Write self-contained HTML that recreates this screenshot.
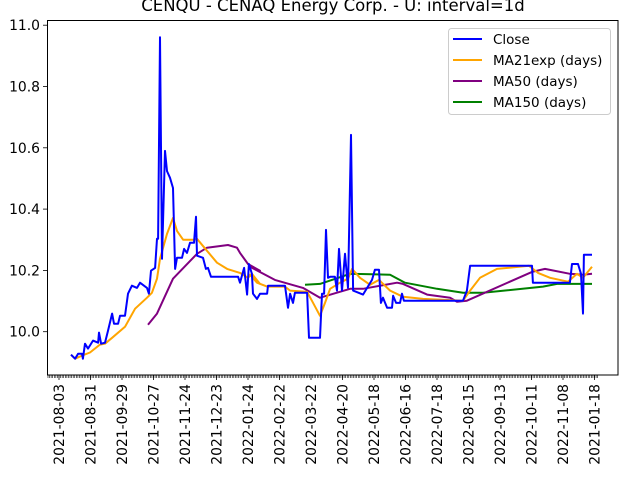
<!DOCTYPE html>
<html><head><meta charset="utf-8"><style>
html,body{margin:0;padding:0;background:#fff;}
svg{display:block;font-family:"DejaVu Sans","Liberation Sans",sans-serif;}
</style></head><body>
<svg id="chart" width="640" height="480" viewBox="0 0 640 480">
<text x="333" y="11" font-size="16.5" text-anchor="middle">CENQU - CENAQ Energy Corp. - U: interval=1d</text>
<g id="plot"></g>
<rect x="47.5" y="20.5" width="570.5" height="354.5" fill="none" stroke="#000" stroke-width="1"/>
<g>
<rect x="448.5" y="28.5" width="162" height="86" rx="3" fill="#fff" fill-opacity="0.8" stroke="#ccc"/>
<line x1="453" y1="39" x2="482" y2="39" stroke="blue" stroke-width="2"/>
<text x="493" y="44" font-size="13.5">Close</text>
<line x1="453" y1="60" x2="482" y2="60" stroke="orange" stroke-width="2"/>
<text x="493" y="65" font-size="13.5">MA21exp (days)</text>
<line x1="453" y1="81" x2="482" y2="81" stroke="purple" stroke-width="2"/>
<text x="493" y="86" font-size="13.5">MA50 (days)</text>
<line x1="453" y1="102" x2="482" y2="102" stroke="green" stroke-width="2"/>
<text x="493" y="107" font-size="13.5">MA150 (days)</text>
</g>
</svg>
<script>
const xTickLabels=["2021-08-03","2021-08-31","2021-09-29","2021-10-27","2021-11-24","2021-12-23","2022-01-24","2022-02-22","2022-03-22","2022-04-20","2022-05-18","2022-06-16","2022-07-18","2022-08-15","2022-09-13","2022-10-11","2022-11-08","2021-01-18"];
const yTicks=[10.0,10.2,10.4,10.6,10.8,11.0];
const closeIdx=[7.6,10.2,12.1,14.6,15.2,16.5,18.4,21.6,24.8,25.4,26.7,29.2,31.1,33.7,34.9,37.5,38.7,41.9,43.8,46.3,49.5,51.4,55.9,57.1,58.4,61,62.2,62.9,64.1,65.4,67.3,68.6,70.5,72.4,73.7,74.9,78.1,79.4,81.3,83.2,85.7,87,87.6,91.4,93.3,94.6,96.5,113.7,114.9,117.5,119.4,120.6,122.5,123.2,125.7,127.6,130.5,132.1,132.7,143.5,145.4,146.7,148.6,149.8,157.5,158.7,165.7,167,168.3,169.5,170.8,172.1,175.2,176.5,177.8,179.7,181.6,183.5,185.4,186.7,193,198.7,200.6,203.2,204.4,205.7,208.3,211.4,212.1,214,216.5,217.8,219,256.5,259,261,300.3,300.9,324.4,325.7,329.5,331.4,332.7,333.3,338.4];
const closeVal=[9.925,9.912,9.928,9.928,9.912,9.961,9.945,9.971,9.964,9.997,9.961,9.964,10.003,10.059,10.026,10.026,10.052,10.052,10.124,10.150,10.143,10.160,10.143,10.124,10.199,10.208,10.303,10.303,10.961,10.238,10.590,10.524,10.502,10.469,10.205,10.241,10.241,10.270,10.257,10.290,10.290,10.375,10.248,10.241,10.205,10.208,10.179,10.179,10.160,10.208,10.121,10.221,10.189,10.124,10.107,10.124,10.124,10.124,10.150,10.150,10.078,10.124,10.094,10.127,10.127,9.980,9.980,10.124,10.124,10.332,10.176,10.179,10.179,10.134,10.270,10.134,10.254,10.143,10.642,10.134,10.121,10.169,10.202,10.202,10.094,10.111,10.078,10.078,10.117,10.094,10.094,10.124,10.101,10.101,10.134,10.215,10.215,10.160,10.160,10.221,10.221,10.189,10.059,10.251,10.251];
const ma21Idx=[7.6,10.2,14.6,19.7,26,29.2,33.7,41.9,48.3,55.9,59,62.2,64.1,68.6,72.4,74.9,78.8,85.7,87.6,94,100.3,106.7,114.9,120,122.5,127.6,121.3,125.7,132.1,143.5,146.7,157.5,160.6,165.7,168.9,172.1,178.4,183.5,186.1,191.1,197.5,203.2,210.2,218.4,231.1,256.5,261,267.3,278.1,298.4,304.1,311.8,323.2,328.9,332.7,338.4];
const ma21Val=[9.925,9.912,9.922,9.932,9.958,9.961,9.980,10.016,10.075,10.111,10.127,10.173,10.238,10.319,10.371,10.329,10.300,10.300,10.303,10.264,10.225,10.205,10.192,10.176,10.189,10.156,10.186,10.160,10.147,10.147,10.134,10.130,10.101,10.052,10.094,10.140,10.160,10.173,10.205,10.176,10.153,10.169,10.134,10.114,10.107,10.101,10.134,10.176,10.205,10.215,10.192,10.176,10.163,10.189,10.176,10.212];
const ma50Idx=[56.5,62.2,72.4,87.6,94,107.3,113,114.9,120,127.6,121.3,137.1,154.9,165.7,184.8,193,214.6,218.4,233.7,248.3,252.7,259,300.3,308.6,324.4,332.7,338.4];
const ma50Val=[10.023,10.059,10.173,10.254,10.274,10.283,10.274,10.257,10.221,10.199,10.212,10.169,10.143,10.111,10.140,10.140,10.160,10.156,10.121,10.111,10.098,10.101,10.195,10.205,10.189,10.186,10.189];
const ma150Idx=[156.2,165.7,184.8,210.2,219.7,240,256.5,269.2,307.3,316.2,338.4];
const ma150Val=[10.153,10.156,10.189,10.186,10.160,10.140,10.127,10.127,10.147,10.156,10.156];

const X0=59, PX=1.575, Y0=331.7, PY=306.5;
function xs(i){return X0+i*PX;}
function ys(v){return Y0-(v-10)*PY;}
const NS="http://www.w3.org/2000/svg";
const plot=document.getElementById('plot');
function mk(t,a){const e=document.createElementNS(NS,t);for(const k in a)e.setAttribute(k,a[k]);plot.appendChild(e);return e;}

for(let i=-7;i<=342;i++){
  const t=mk('line',{x1:xs(i),x2:xs(i),y1:375,y2:378,stroke:'#000','stroke-width':0.6});
  
  
}
xTickLabels.forEach((lab,k)=>{
  const x=xs(k*20);
  const t=mk('line',{x1:x,x2:x,y1:375,y2:380,stroke:'#000','stroke-width':0.8});
  
  
  const tx=mk('text',{x:0,y:0,'font-size':13.9,'text-anchor':'end',transform:`translate(${x+5},384) rotate(-90)`});
  tx.textContent=lab;
  
  
});
yTicks.forEach(v=>{
  const y=ys(v);
  const t=mk('line',{x1:43,x2:47.5,y1:y,y2:y,stroke:'#000','stroke-width':0.8});
  
  
  const tx=mk('text',{x:40,y:y+5,'font-size':13.9,'text-anchor':'end'});
  tx.textContent=v.toFixed(1);
  
  
});
function series(idx,val,color,name){
  const p=idx.map((i,k)=>xs(i).toFixed(1)+','+ys(val[k]).toFixed(1)).join(' ');
  const l=mk('polyline',{points:p,fill:'none',stroke:color,'stroke-width':2,'stroke-linejoin':'round'});
  
  
}
series(ma150Idx,ma150Val,'green','ma150-line');
series(ma50Idx,ma50Val,'purple','ma50-line');
series(ma21Idx,ma21Val,'orange','ma21exp-line');
series(closeIdx,closeVal,'blue','close-line');
</script>
</body></html>
